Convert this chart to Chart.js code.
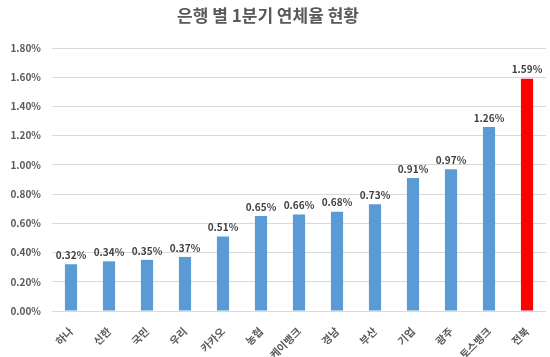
<!DOCTYPE html>
<html><head><meta charset="utf-8">
<script src="https://cdn.jsdelivr.net/npm/chart.js@4"></script>
<style>html,body{margin:0;padding:0;background:#fff}#w{width:550px;height:357px;position:relative}</style>
</head><body><div id="w"><canvas id="c"></canvas></div>
<script>
const chartTitle = '은행 별 1분기 연체율 현황';
const categories = ['하나','신한','국민','우리','카카오','농협','케이뱅크','경남','부산','기업','광주','토스뱅크','전북'];
const values = [0.32,0.34,0.35,0.37,0.51,0.65,0.66,0.68,0.73,0.91,0.97,1.26,1.59];
const barColors = ['#5B9BD5','#5B9BD5','#5B9BD5','#5B9BD5','#5B9BD5','#5B9BD5','#5B9BD5','#5B9BD5','#5B9BD5','#5B9BD5','#5B9BD5','#5B9BD5','#FF0000'];
const FONT = "'Noto Sans CJK KR','Noto Sans',sans-serif";

const labelPlugin = {
  id:'labels',
  afterDatasetsDraw(chart){
    const ctx = chart.ctx;
    const meta = chart.getDatasetMeta(0);
    ctx.save();
    ctx.font = "bold 10px " + FONT;
    ctx.fillStyle = '#404040';
    ctx.textAlign = 'center';
    ctx.textBaseline = 'bottom';
    meta.data.forEach((bar,i)=>{
      ctx.fillText(values[i].toFixed(2)+'%', bar.x, bar.y-4);
    });
    ctx.restore();
  },
  afterDraw(chart){
    const ctx = chart.ctx;
    ctx.save();
    ctx.font = "bold 17px " + FONT;
    ctx.fillStyle = '#595959';
    ctx.textAlign = 'center';
    ctx.textBaseline = 'middle';
    ctx.fillText(chartTitle, 268, 16);
    ctx.restore();
  }
};

new Chart(document.getElementById('c'),{
  type:'bar',
  data:{labels:categories,datasets:[{data:values,backgroundColor:barColors,barPercentage:0.32,categoryPercentage:1}]},
  options:{
    responsive:true,maintainAspectRatio:false,animation:false,
    layout:{padding:{top:48,right:4,left:0,bottom:0}},
    plugins:{legend:{display:false},title:{display:false},tooltip:{enabled:false}},
    scales:{
      x:{
        grid:{display:false},
        border:{display:false},
        ticks:{maxRotation:45,minRotation:45,color:'#595959',font:{family:FONT,size:10.5,weight:'bold'},padding:6},
        afterFit(s){s.height=46;}
      },
      y:{
        min:0,max:1.8,
        grid:{color:'#d9d9d9',drawTicks:false},
        border:{display:false},
        ticks:{stepSize:0.2,color:'#595959',font:{family:FONT,size:10,weight:'bold'},padding:11,
          callback:v=>v.toFixed(2)+'%'},
        afterFit(s){s.width=52;}
      }
    }
  },
  plugins:[labelPlugin]
});
</script></body></html>
